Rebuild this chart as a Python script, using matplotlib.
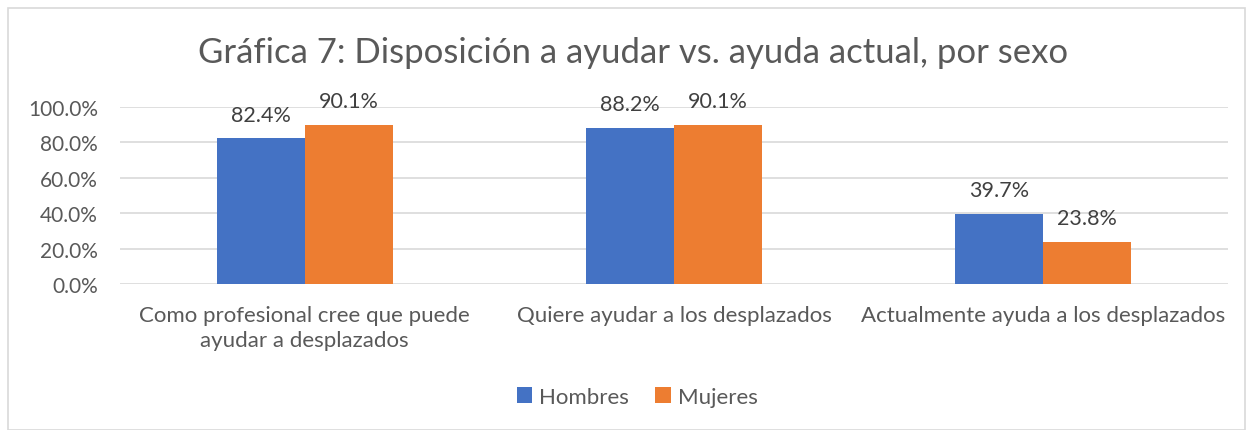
import numpy as np
import matplotlib.pyplot as plt
from matplotlib.patches import Rectangle

categories = ['Como profesional cree que puede\nayudar a desplazados',
              'Quiere ayudar a los desplazados',
              'Actualmente ayuda a los desplazados']
hombres = [0.824, 0.882, 0.397]
mujeres = [0.901, 0.901, 0.238]
yticks = [0.0, 0.2, 0.4, 0.6, 0.8, 1.0]

plt.rcParams['font.family'] = ['Lato', 'DejaVu Sans']
txt = '#595959'

fig = plt.figure(figsize=(12.46, 4.31), dpi=100)
ax = fig.add_axes([120 / 1246, 1 - 285 / 431, 1108 / 1246, 177 / 431])

x = np.arange(len(categories))
w = 0.238
b1 = ax.bar(x - w / 2, hombres, w, color='#4472C4', label='Hombres', zorder=3)
b2 = ax.bar(x + w / 2, mujeres, w, color='#ED7D31', label='Mujeres', zorder=3)

for bars, vals in ((b1, hombres), (b2, mujeres)):
    for r, v in zip(bars, vals):
        ax.annotate(f'{v * 100:.1f}%', (r.get_x() + r.get_width() / 2, v),
                    xytext=(0, 17), textcoords='offset points',
                    ha='center', va='center', fontsize=15.5, color='#404040',
                    annotation_clip=False)

ax.set_xlim(-0.5, 2.5)
ax.set_ylim(0, 1.0)
ax.set_yticks(yticks)
ax.set_yticklabels([f'{t * 100:.1f}%' for t in yticks], fontsize=15, color=txt)
ax.set_xticks(x)
ax.set_xticklabels(categories, fontsize=16, color=txt, linespacing=1.3)
ax.tick_params(length=0)
ax.tick_params(axis='x', pad=15)
ax.tick_params(axis='y', pad=16)
ax.grid(axis='y', color='#d9d9d9', linewidth=1.2, zorder=0)
for s in ax.spines.values():
    s.set_visible(False)

fig.text(633 / 1246, 1 - 53 / 431, 'Gráfica 7: Disposición a ayudar vs. ayuda actual, por sexo',
         ha='center', va='center', fontsize=25, color=txt)

fig.legend(handles=[b1, b2], loc='center', bbox_to_anchor=(637 / 1246, 1 - 398 / 431),
           ncol=2, frameon=False, fontsize=16, labelcolor=txt, handlelength=0.7,
           handleheight=0.7, handletextpad=0.3, columnspacing=1.2)

fig.patches.append(Rectangle((8 / 1246, 0.5 / 431), 1237 / 1246, 421.5 / 431,
                             transform=fig.transFigure, fill=False,
                             edgecolor='#d9d9d9', linewidth=1.2))

fig.savefig('out.png', dpi=100)
